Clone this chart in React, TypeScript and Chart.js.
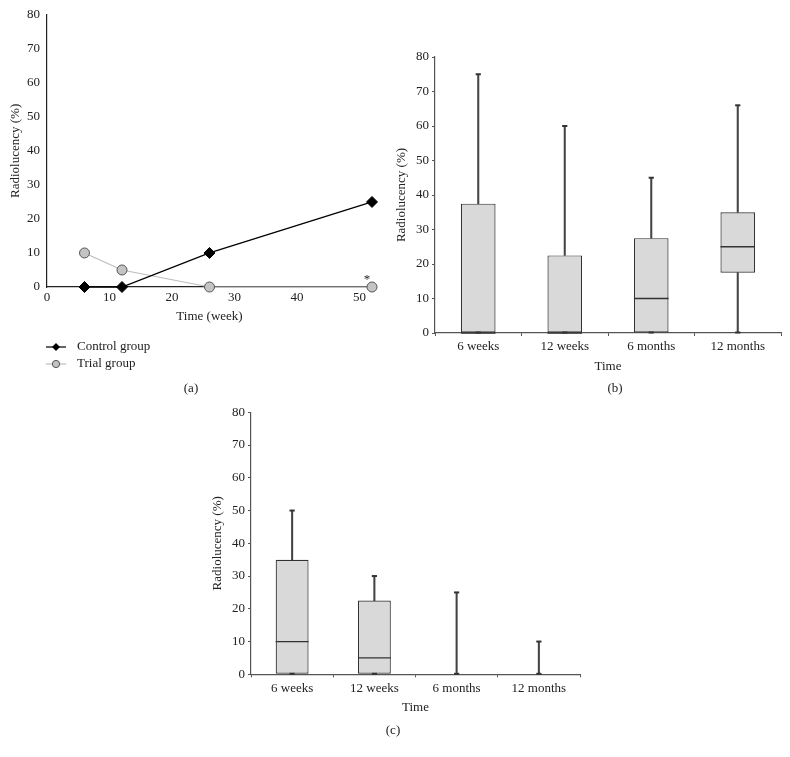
import React, { useEffect, useRef } from 'react';
import { Chart, registerables } from 'chart.js';

Chart.register(...registerables);

// ---------- data ----------
const weeks = [6, 12, 26, 52];
const controlValues = [0, 0, 10, 25];
const trialValues = [10, 5, 0, 0];
const seriesNames = ['Control group', 'Trial group'];

const timeLabels = ['6 weeks', '12 weeks', '6 months', '12 months'];

const bMin = [0, 0, 0, 0];
const bQ1 = [0, 0, 0, 17.5];
const bMedian = [0, 0, 10, 25];
const bQ3 = [37.5, 22.5, 27.5, 35];
const bMax = [75, 60, 45, 66];

const cMin = [0, 0, 0, 0];
const cQ1 = [0, 0, 0, 0];
const cMedian = [10, 5, 0, 0];
const cQ3 = [35, 22.5, 0, 0];
const cMax = [50, 30, 25, 10];

const panelLabels = ['(a)', '(b)', '(c)'];
const yTitle = 'Radiolucency (%)';
const xTitleA = 'Time (week)';
const xTitleBox = 'Time';

// ---------- style ----------
const FAMILY = "'Liberation Serif', 'Times New Roman', serif";
const FONT = { family: FAMILY, size: 13 };
const TEXT = '#222';

function lineA(ctx: CanvasRenderingContext2D, x1: number, y1: number, x2: number, y2: number) {
  ctx.beginPath();
  ctx.moveTo(x1, y1);
  ctx.lineTo(x2, y2);
  ctx.stroke();
}

const annotA = {
  id: 'annotA',
  afterDraw(chart: any) {
    const ctx = chart.ctx as CanvasRenderingContext2D;
    const xs = chart.scales.x;
    const ys = chart.scales.y;
    ctx.save();
    ctx.font = `13px ${FAMILY}`;
    ctx.fillStyle = TEXT;
    // asterisk above last trial point
    const px = xs.getPixelForValue(weeks[weeks.length - 1]);
    const py = ys.getPixelForValue(trialValues[trialValues.length - 1]);
    ctx.textAlign = 'center';
    ctx.textBaseline = 'alphabetic';
    ctx.fillText('*', px - 5, py - 4.5);

    // legend
    const lx1 = 46, lx2 = 66, mx = 56, tx = 77;
    const ly1 = 347, ly2 = 364;
    ctx.strokeStyle = '#000';
    ctx.lineWidth = 1.2;
    lineA(ctx, lx1, ly1, lx2, ly1);
    ctx.fillStyle = '#000';
    ctx.beginPath();
    ctx.moveTo(mx, ly1 - 4);
    ctx.lineTo(mx + 4, ly1);
    ctx.lineTo(mx, ly1 + 4);
    ctx.lineTo(mx - 4, ly1);
    ctx.closePath();
    ctx.fill();
    ctx.strokeStyle = '#bdbdbd';
    ctx.lineWidth = 1.2;
    lineA(ctx, lx1, ly2, lx2, ly2);
    ctx.beginPath();
    ctx.arc(mx, ly2, 3.6, 0, Math.PI * 2);
    ctx.fillStyle = '#c4c4c4';
    ctx.fill();
    ctx.strokeStyle = '#555';
    ctx.lineWidth = 1;
    ctx.stroke();

    ctx.fillStyle = TEXT;
    ctx.textAlign = 'left';
    ctx.textBaseline = 'middle';
    ctx.fillText(seriesNames[0], tx, ly1);
    ctx.fillText(seriesNames[1], tx, ly2);

    ctx.textAlign = 'center';
    ctx.fillText(panelLabels[0], 191, 389);
    ctx.restore();
  },
};

function makeBoxPlugin(mins: number[], q1s: number[], medians: number[], q3s: number[], maxs: number[], label: string, lx: number, ly: number) {
  return {
    id: 'boxExtras' + label,
    afterDatasetsDraw(chart: any) {
      const ctx = chart.ctx as CanvasRenderingContext2D;
      const xs = chart.scales.x;
      const ys = chart.scales.y;
      const meta = chart.getDatasetMeta(0);
      ctx.save();
      // medians
      ctx.strokeStyle = '#333';
      ctx.lineWidth = 1.3;
      meta.data.forEach((bar: any, i: number) => {
        if (q3s[i] <= q1s[i]) return;
        const { x, width } = bar.getProps(['x', 'width'], true);
        const y = ys.getPixelForValue(medians[i]);
        lineA(ctx, x - width / 2, y, x + width / 2, y);
      });
      // whisker caps
      ctx.strokeStyle = '#333';
      ctx.lineWidth = 2;
      maxs.forEach((m, i) => {
        const x = xs.getPixelForValue(i);
        const yTop = ys.getPixelForValue(m);
        lineA(ctx, x - 2.6, yTop, x + 2.6, yTop);
        const yBot = ys.getPixelForValue(mins[i]);
        lineA(ctx, x - 2.6, yBot - 0.5, x + 2.6, yBot - 0.5);
      });
      ctx.restore();
    },
    afterDraw(chart: any) {
      const ctx = chart.ctx as CanvasRenderingContext2D;
      ctx.save();
      ctx.font = `13px ${FAMILY}`;
      ctx.fillStyle = TEXT;
      ctx.textAlign = 'center';
      ctx.textBaseline = 'middle';
      ctx.fillText(label, lx, ly);
      ctx.restore();
    },
  };
}

function boxConfig(
  mins: number[], q1s: number[], medians: number[], q3s: number[], maxs: number[],
  geom: { padTop: number; padRight: number; padBottom: number; yWidth: number; xHeight: number; yTitlePad: number },
  label: string, lx: number, ly: number
): any {
  const axisColor = '#555';
  return {
    type: 'bar',
    data: {
      labels: timeLabels,
      datasets: [
        {
          label: 'box',
          data: q1s.map((q, i) => (q3s[i] > q ? [q, q3s[i]] : null)),
          backgroundColor: '#d9d9d9',
          borderColor: '#333',
          borderWidth: 1.2,
          borderSkipped: false,
          barPercentage: 0.4,
          categoryPercentage: 1,
          grouped: false,
          order: 0,
        },
        {
          label: 'upper whisker',
          data: q3s.map((q, i) => (maxs[i] > q ? [q, maxs[i]] : null)),
          backgroundColor: '#444',
          borderWidth: 0,
          barThickness: 1.4,
          grouped: false,
          order: 1,
        },
        {
          label: 'lower whisker',
          data: mins.map((m, i) => (q1s[i] > m ? [m, q1s[i]] : null)),
          backgroundColor: '#444',
          borderWidth: 0,
          barThickness: 1.4,
          grouped: false,
          order: 1,
        },
      ],
    },
    options: {
      responsive: false,
      animation: false,
      layout: { padding: { top: geom.padTop, right: geom.padRight, bottom: geom.padBottom, left: 0 } },
      plugins: { legend: { display: false }, tooltip: { enabled: false } },
      scales: {
        x: {
          grid: { drawOnChartArea: false, drawTicks: true, tickLength: 3, color: axisColor, offset: true },
          border: { display: true, color: axisColor, width: 1.2 },
          ticks: { color: TEXT, font: FONT, padding: 3, maxRotation: 0 },
          title: { display: true, text: xTitleBox, color: TEXT, font: FONT, padding: 0 },
          afterFit(s: any) { s.height = geom.xHeight; },
        },
        y: {
          min: 0,
          max: 80,
          grid: { drawOnChartArea: false, drawTicks: true, tickLength: 3, color: axisColor },
          border: { display: true, color: axisColor, width: 1.2 },
          ticks: { stepSize: 10, color: TEXT, font: FONT, padding: 3 },
          title: { display: true, text: yTitle, color: TEXT, font: FONT, padding: { top: geom.yTitlePad, bottom: 0 } },
          afterFit(s: any) { s.width = geom.yWidth; },
        },
      },
    },
    plugins: [makeBoxPlugin(mins, q1s, medians, q3s, maxs, label, lx, ly)],
  };
}

function configA(): any {
  return {
    type: 'line',
    data: {
      datasets: [
        {
          label: seriesNames[0],
          data: weeks.map((w, i) => ({ x: w, y: controlValues[i] })),
          borderColor: '#000',
          borderWidth: 1.3,
          pointStyle: 'rectRot',
          pointRadius: 5.5,
          pointBackgroundColor: '#000',
          pointBorderColor: '#000',
          pointBorderWidth: 1,
          clip: false,
          order: 0,
        },
        {
          label: seriesNames[1],
          data: weeks.map((w, i) => ({ x: w, y: trialValues[i] })),
          borderColor: '#bdbdbd',
          borderWidth: 1.2,
          pointStyle: 'circle',
          pointRadius: 5,
          pointBackgroundColor: '#c4c4c4',
          pointBorderColor: '#555',
          pointBorderWidth: 1,
          clip: false,
          order: 1,
        },
      ],
    },
    options: {
      responsive: false,
      animation: false,
      layout: { padding: { top: 14, right: 18, bottom: 76, left: 0 } },
      plugins: { legend: { display: false }, tooltip: { enabled: false } },
      scales: {
        x: {
          type: 'linear',
          min: 0,
          max: 52,
          grid: { display: false, drawTicks: false },
          border: { display: true, color: '#222', width: 1.2 },
          ticks: { stepSize: 10, includeBounds: false, padding: 3, color: TEXT, font: FONT, maxRotation: 0 },
          title: { display: true, text: xTitleA, color: TEXT, font: FONT, padding: 0 },
          afterFit(s: any) { s.height = 37; },
        },
        y: {
          min: 0,
          max: 80,
          grid: { display: false, drawTicks: false },
          border: { display: true, color: '#222', width: 1.2 },
          ticks: { stepSize: 10, padding: 7, color: TEXT, font: FONT },
          title: { display: true, text: yTitle, color: TEXT, font: FONT, padding: { top: 8, bottom: 0 } },
          afterFit(s: any) { s.width = 47; },
        },
      },
    },
    plugins: [annotA],
  };
}

export default function App() {
  const refA = useRef<HTMLCanvasElement>(null);
  const refB = useRef<HTMLCanvasElement>(null);
  const refC = useRef<HTMLCanvasElement>(null);

  useEffect(() => {
    const charts: Chart[] = [];
    if (refA.current) charts.push(new Chart(refA.current, configA()));
    if (refB.current)
      charts.push(
        new Chart(
          refB.current,
          boxConfig(bMin, bQ1, bMedian, bQ3, bMax,
            { padTop: 57, padRight: 9, padBottom: 26, yWidth: 45, xHeight: 41, yTitlePad: 4.2 },
            panelLabels[1], 225, 389)
        )
      );
    if (refC.current)
      charts.push(
        new Chart(
          refC.current,
          boxConfig(cMin, cQ1, cMedian, cQ3, cMax,
            { padTop: 12.3, padRight: 10, padBottom: 41.2, yWidth: 51, xHeight: 41.5, yTitlePad: 9.7 },
            panelLabels[2], 193, 331)
        )
      );
    return () => charts.forEach((c) => c.destroy());
  }, []);

  return (
    <div style={{ position: 'absolute', left: 0, top: 0, width: 790, height: 757, background: '#fff' }}>
      <canvas ref={refA} width={390} height={400} style={{ position: 'absolute', left: 0, top: 0 }} />
      <canvas ref={refB} width={400} height={400} style={{ position: 'absolute', left: 390, top: 0 }} />
      <canvas ref={refC} width={390} height={357} style={{ position: 'absolute', left: 200, top: 400 }} />
    </div>
  );
}
